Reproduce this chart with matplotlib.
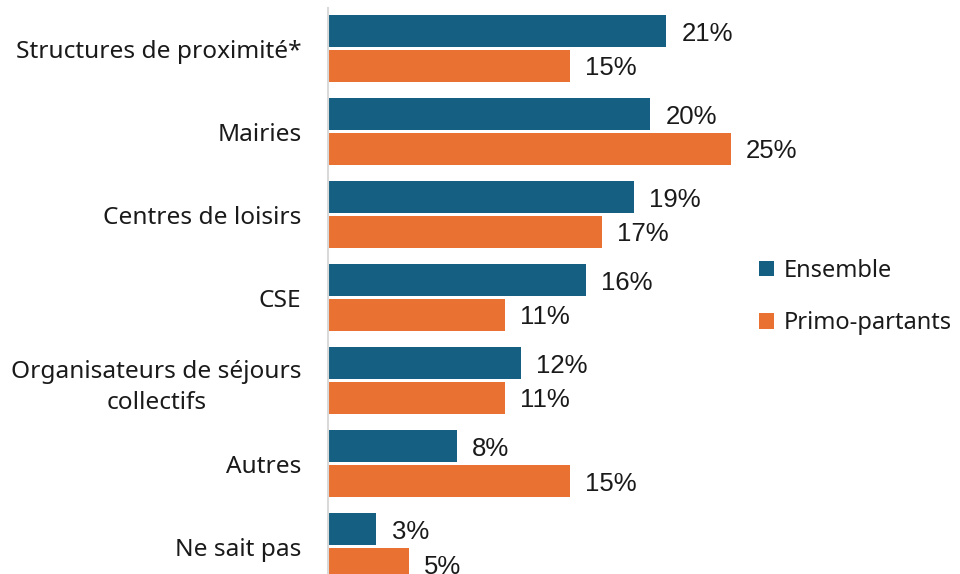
import numpy as np
import matplotlib.pyplot as plt

categories = ["Structures de proximité*", "Mairies", "Centres de loisirs", "CSE",
              "Organisateurs de séjours\ncollectifs", "Autres", "Ne sait pas"]
ensemble = [21, 20, 19, 16, 12, 8, 3]
primo = [15, 25, 17, 11, 11, 15, 5]
series_names = ["Ensemble", "Primo-partants"]

blue = "#156082"
orange = "#E97132"

W, H = 960, 574
fig = plt.figure(figsize=(9.6, 5.74), dpi=100)
# axes from x=328px to 830px, y from 8px (top) to bottom edge of figure
ax = fig.add_axes([328 / W, 0, (830 - 328) / W, (574 - 8) / H])

y = np.arange(len(categories))
h = 0.385
off = 0.21
ax.barh(y - off, ensemble, height=h, color=blue, label=series_names[0])
ax.barh(y + off, primo, height=h, color=orange, label=series_names[1])

for yi, v in zip(y - off, ensemble):
    ax.text(v + 0.95, yi + 0.03, f"{v}%", va="center", ha="left", fontsize=18.5,
            family="Liberation Sans", color="#1a1a1a")
for yi, v in zip(y + off, primo):
    ax.text(v + 0.95, yi + 0.03, f"{v}%", va="center", ha="left", fontsize=18.5,
            family="Liberation Sans", color="#1a1a1a")

ax.set_xlim(0, (830 - 328) / 16.1)
ax.set_ylim(6.33, -0.488)
ax.set_yticks(y)
ax.set_yticklabels(categories, fontsize=17.6, family="Noto Sans", multialignment="center",
                   linespacing=1.4, color="#1a1a1a")
ax.tick_params(axis="y", length=0, pad=19)
ax.set_xticks([])
for s in ["top", "right", "bottom"]:
    ax.spines[s].set_visible(False)
ax.spines["left"].set_color("#d9d9d9")
ax.spines["left"].set_linewidth(1.5)

leg = fig.legend(loc="center left", bbox_to_anchor=(738 / W, 1 - 297 / H), frameon=False,
                 prop={"family": "Noto Sans", "size": 17}, handlelength=0.62, handleheight=0.62,
                 handletextpad=0.4, labelspacing=1.2)
for t in leg.get_texts():
    t.set_color("#1a1a1a")

fig.savefig("out.png", dpi=100)
